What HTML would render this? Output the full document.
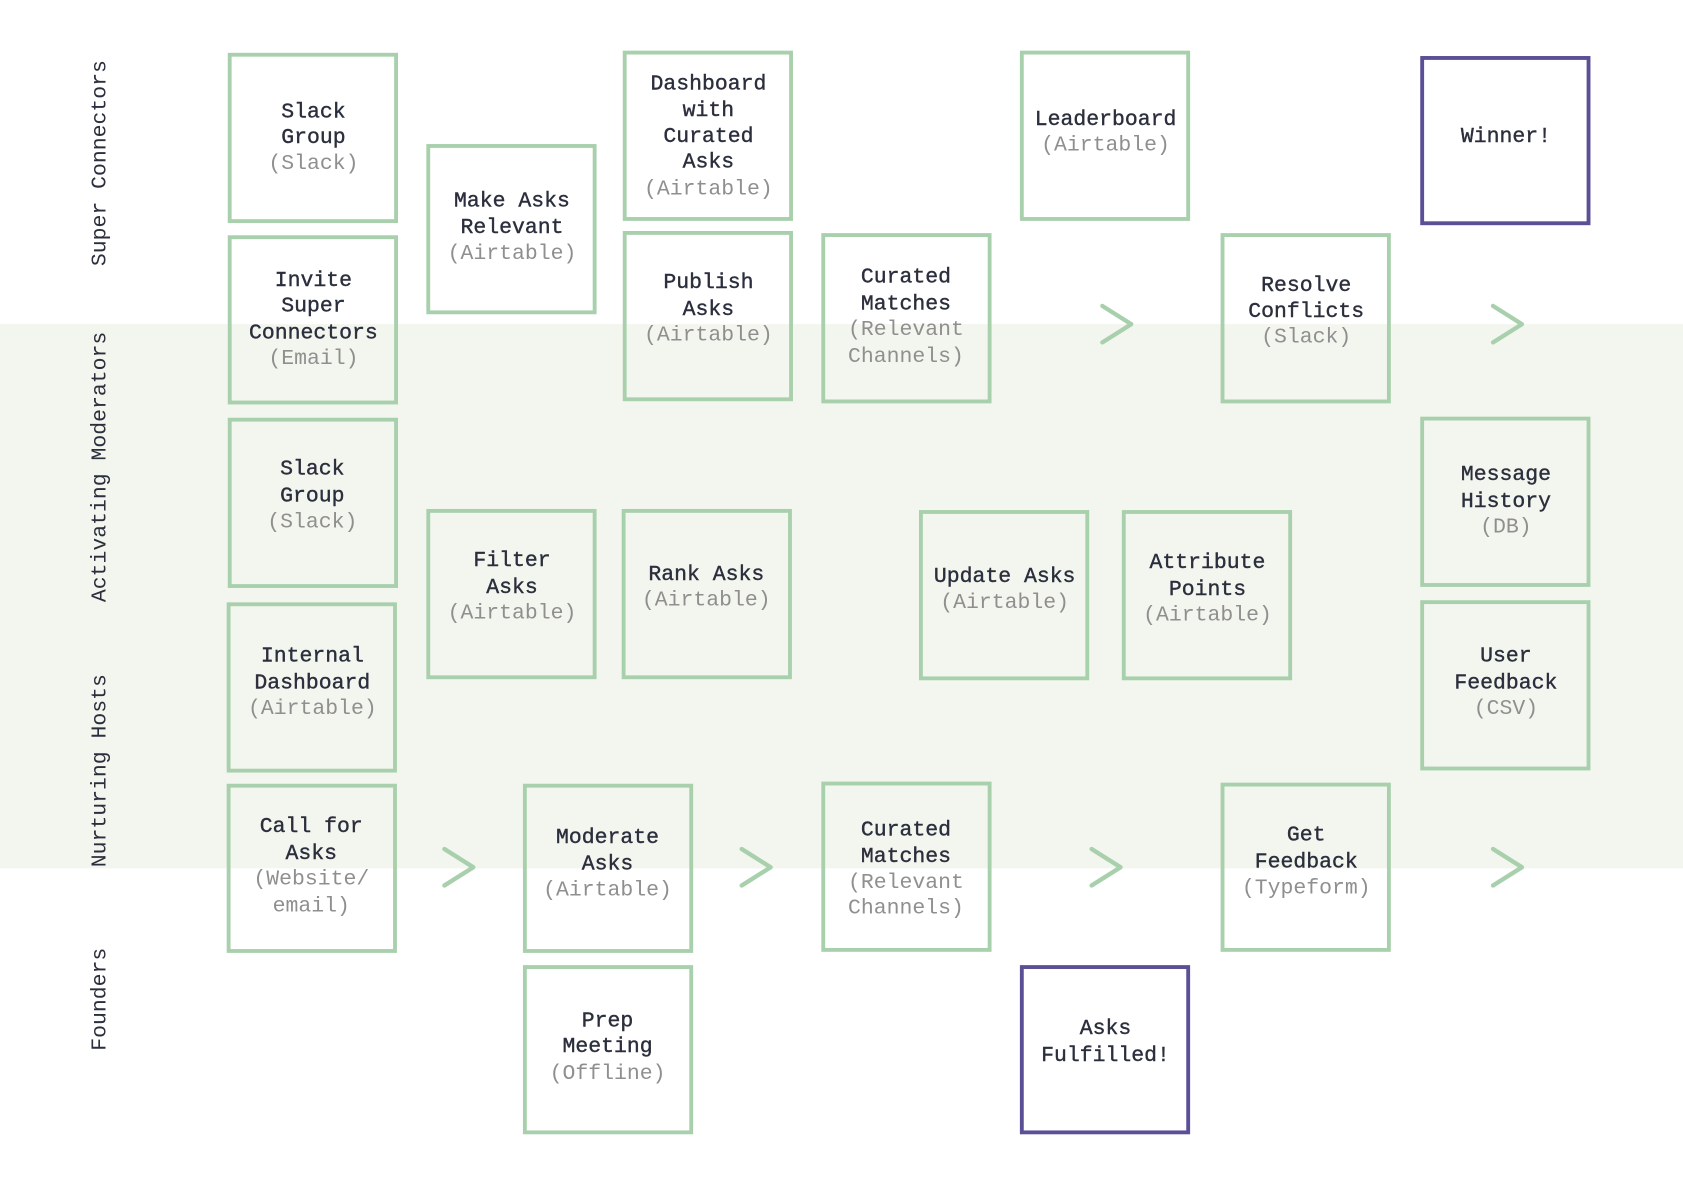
<!DOCTYPE html>
<html><head><meta charset="utf-8"><style>
html,body{margin:0;padding:0;background:#fff;}
svg{display:block;}
text{font-family:"Liberation Mono","DejaVu Sans Mono",monospace;font-size:20px;text-anchor:middle;dominant-baseline:middle;}
.t{fill:#2b2e3c;stroke:#2b2e3c;stroke-width:0.35;}
.s{fill:#8f8f8f;}
.l{fill:#2b2e3c;font-size:20px;}
.b{fill:none;stroke:#a9d0ad;stroke-width:3.6;}
.p{fill:none;stroke:#5b4f96;stroke-width:3.6;}
.c{fill:none;stroke:#a9d0ad;stroke-width:4;stroke-linecap:round;stroke-linejoin:round;}
</style></head><body>
<svg width="1683" height="1190" viewBox="0 0 1568 1108.7" xmlns="http://www.w3.org/2000/svg">
<rect x="0" y="302" width="1568" height="507" fill="#f3f6ee"/>
<g class="l">
<text class="l" transform="translate(93,152) rotate(-90)">Super Connectors</text>
<text class="l" transform="translate(93,435) rotate(-90)">Activating Moderators</text>
<text class="l" transform="translate(93,718) rotate(-90)">Nurturing Hosts</text>
<text class="l" transform="translate(93,931) rotate(-90)">Founders</text>
</g>
<rect class="b" x="214" y="51" width="155" height="155"/>
<rect class="b" x="214" y="221" width="155" height="154"/>
<rect class="b" x="399" y="136" width="155" height="155"/>
<rect class="b" x="582" y="49" width="155" height="155"/>
<rect class="b" x="582" y="217" width="155" height="155"/>
<rect class="b" x="767" y="219" width="155" height="155"/>
<rect class="b" x="952" y="49" width="155" height="155"/>
<rect class="b" x="1139" y="219" width="155" height="155"/>
<rect class="p" x="1325" y="54" width="155" height="154"/>
<rect class="b" x="214" y="391" width="155" height="155"/>
<rect class="b" x="399" y="476" width="155" height="155"/>
<rect class="b" x="581" y="476" width="155" height="155"/>
<rect class="b" x="858" y="477" width="155" height="155"/>
<rect class="b" x="1047" y="477" width="155" height="155"/>
<rect class="b" x="1325" y="390" width="155" height="155"/>
<rect class="b" x="213" y="563" width="155" height="155"/>
<rect class="b" x="1325" y="561" width="155" height="155"/>
<rect class="b" x="213" y="732" width="155" height="154"/>
<rect class="b" x="489" y="732" width="155" height="154"/>
<rect class="b" x="767" y="730" width="155" height="155"/>
<rect class="b" x="1139" y="731" width="155" height="154"/>
<rect class="b" x="489" y="901" width="155" height="154"/>
<rect class="p" x="952" y="901" width="155" height="154"/>
<polyline class="c" points="1027,285 1054,302 1027,319"/>
<polyline class="c" points="1391,285 1418,302 1391,319"/>
<polyline class="c" points="414,791 441,808 414,825"/>
<polyline class="c" points="691,791 718,808 691,825"/>
<polyline class="c" points="1017,791 1044,808 1017,825"/>
<polyline class="c" points="1391,791 1418,808 1391,825"/>
<text class="t" x="292" y="104">Slack</text><text class="t" x="292" y="128">Group</text><text class="s" x="292" y="152">(Slack)</text>
<text class="t" x="292" y="261">Invite</text><text class="t" x="292" y="285">Super</text><text class="t" x="292" y="310">Connectors</text><text class="s" x="292" y="334">(Email)</text>
<text class="t" x="477" y="187">Make Asks</text><text class="t" x="477" y="212">Relevant</text><text class="s" x="477" y="236">(Airtable)</text>
<text class="t" x="660" y="78">Dashboard</text><text class="t" x="660" y="103">with</text><text class="t" x="660" y="127">Curated</text><text class="t" x="660" y="151">Asks</text><text class="s" x="660" y="176">(Airtable)</text>
<text class="t" x="660" y="263">Publish</text><text class="t" x="660" y="288">Asks</text><text class="s" x="660" y="312">(Airtable)</text>
<text class="t" x="844" y="258">Curated</text><text class="t" x="844" y="283">Matches</text><text class="s" x="844" y="307">(Relevant</text><text class="s" x="844" y="332">Channels)</text>
<text class="t" x="1030" y="111">Leaderboard</text><text class="s" x="1030" y="135">(Airtable)</text>
<text class="t" x="1217" y="266">Resolve</text><text class="t" x="1217" y="290">Conflicts</text><text class="s" x="1217" y="314">(Slack)</text>
<text class="t" x="1403" y="127">Winner!</text>
<text class="t" x="291" y="437">Slack</text><text class="t" x="291" y="462">Group</text><text class="s" x="291" y="486">(Slack)</text>
<text class="t" x="477" y="522">Filter</text><text class="t" x="477" y="547">Asks</text><text class="s" x="477" y="571">(Airtable)</text>
<text class="t" x="658" y="535">Rank Asks</text><text class="s" x="658" y="559">(Airtable)</text>
<text class="t" x="936" y="537">Update Asks</text><text class="s" x="936" y="561">(Airtable)</text>
<text class="t" x="1125" y="524">Attribute</text><text class="t" x="1125" y="549">Points</text><text class="s" x="1125" y="573">(Airtable)</text>
<text class="t" x="1403" y="442">Message</text><text class="t" x="1403" y="467">History</text><text class="s" x="1403" y="491">(DB)</text>
<text class="t" x="291" y="611">Internal</text><text class="t" x="291" y="636">Dashboard</text><text class="s" x="291" y="660">(Airtable)</text>
<text class="t" x="1403" y="611">User</text><text class="t" x="1403" y="636">Feedback</text><text class="s" x="1403" y="660">(CSV)</text>
<text class="t" x="290" y="770">Call for</text><text class="t" x="290" y="795">Asks</text><text class="s" x="290" y="819">(Website/</text><text class="s" x="290" y="844">email)</text>
<text class="t" x="566" y="780">Moderate</text><text class="t" x="566" y="805">Asks</text><text class="s" x="566" y="829">(Airtable)</text>
<text class="t" x="844" y="773">Curated</text><text class="t" x="844" y="798">Matches</text><text class="s" x="844" y="822">(Relevant</text><text class="s" x="844" y="846">Channels)</text>
<text class="t" x="1217" y="778">Get</text><text class="t" x="1217" y="803">Feedback</text><text class="s" x="1217" y="827">(Typeform)</text>
<text class="t" x="566" y="951">Prep</text><text class="t" x="566" y="975">Meeting</text><text class="s" x="566" y="1000">(Offline)</text>
<text class="t" x="1030" y="958">Asks</text><text class="t" x="1030" y="983">Fulfilled!</text>
</svg>
</body></html>
